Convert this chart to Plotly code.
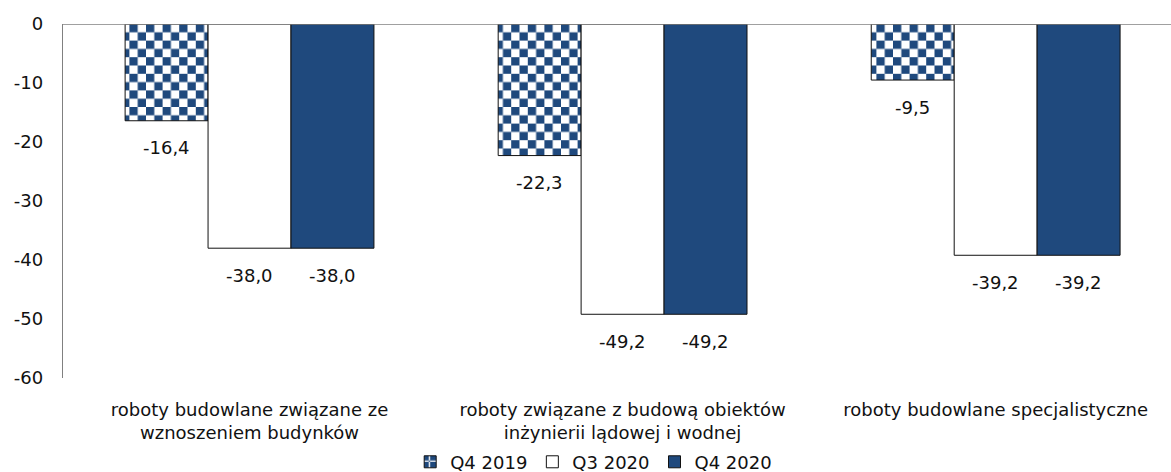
import plotly.graph_objects as go

categories = [
    "roboty budowlane związane ze<br>wznoszeniem budynków",
    "roboty związane z budową obiektów<br>inżynierii lądowej i wodnej",
    "roboty budowlane specjalistyczne",
]
series_names = ["Q4 2019", "Q3 2020", "Q4 2020"]
q4_2019 = [-16.4, -22.3, -9.5]
q3_2020 = [-38.0, -49.2, -39.2]
q4_2020 = [-38.0, -49.2, -39.2]
y_ticks = [0, -10, -20, -30, -40, -50, -60]

BLUE = "#1F497D"
FONT = "DejaVu Sans"
FS = 18
cell = 8.3

checker_path = (f"M0,0H{cell}V{cell}H0Z M{cell},{cell}H{2*cell}V{2*cell}H{cell}Z")

fig = go.Figure()
fig.add_trace(go.Bar(
    x=categories, y=q4_2019, name=series_names[0],
    marker=dict(color="white", line=dict(color="#111", width=1),
                pattern=dict(path=checker_path, size=2 * cell, fgcolor=BLUE,
                             bgcolor="white", fgopacity=1, fillmode="replace")),
))
fig.add_trace(go.Bar(
    x=categories, y=q3_2020, name=series_names[1],
    marker=dict(color="white", line=dict(color="#111", width=1)),
))
fig.add_trace(go.Bar(
    x=categories, y=q4_2020, name=series_names[2],
    marker=dict(color=BLUE, line=dict(color="#111", width=1)),
))

# data labels below bar ends
shifts = [-83, 0, 83]
for vals, xs in zip([q4_2019, q3_2020, q4_2020], shifts):
    for c, v in zip(categories, vals):
        fig.add_annotation(x=c, y=v, xref="x", yref="y", xshift=xs, yshift=-27,
                           text=f"{v:.1f}".replace(".", ","), showarrow=False,
                           font=dict(family=FONT, size=FS, color="#111"))

fig.add_shape(type="line", xref="paper", yref="y", x0=0, x1=1, y0=0, y1=0,
              line=dict(color="#808080", width=1.3), layer="above")

fig.update_layout(
    width=1171, height=472,
    margin=dict(l=63, r=0, t=24, b=94),
    paper_bgcolor="white", plot_bgcolor="white",
    barmode="group", bargap=0.333, bargroupgap=0,
    font=dict(family=FONT, size=FS, color="#111"),
    showlegend=True,
    legend=dict(orientation="h", xref="container", yref="container",
                x=0.507, xanchor="center", y=0.021, yanchor="middle",
                font=dict(family=FONT, size=FS), itemwidth=30,
                traceorder="normal"),
    xaxis=dict(range=[-0.5, 2.47], showline=False, showgrid=False, ticks="",
               tickfont=dict(family=FONT, size=FS), zeroline=False,
               ticklabelstandoff=19),
    yaxis=dict(range=[-60, 0], tickvals=y_ticks, ticktext=[str(t) for t in y_ticks],
               showline=True, linecolor="#808080", linewidth=1.3, showgrid=False,
               zeroline=False, ticks="", ticklabelstandoff=15,
               tickfont=dict(family=FONT, size=FS)),
)

fig.write_html("out.html", config={"displayModeBar": False},
               post_script="document.body.style.margin='0';")
